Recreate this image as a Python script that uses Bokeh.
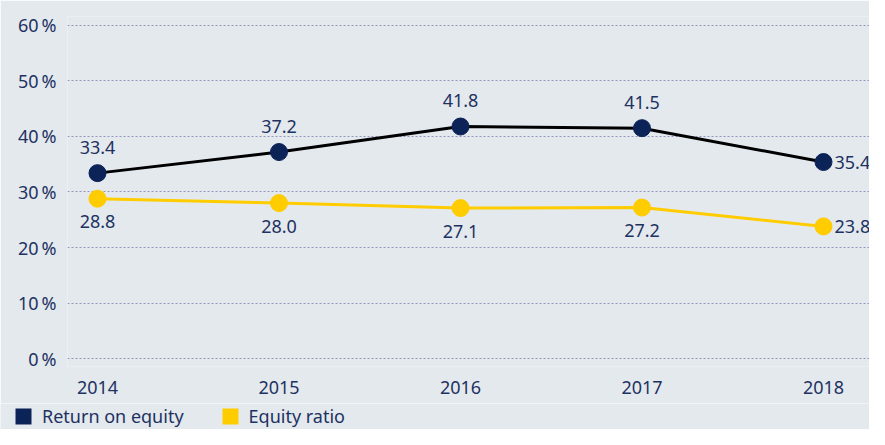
from bokeh.plotting import figure
from bokeh.layouts import column
from bokeh.models import (Range1d, FixedTicker, ColumnDataSource, LabelSet, Legend, LegendItem)
from bokeh.core.properties import value
from bokeh.embed import file_html
from bokeh.resources import INLINE

years = [2014, 2015, 2016, 2017, 2018]
return_on_equity = [33.4, 37.2, 41.8, 41.5, 35.4]
equity_ratio = [28.8, 28.0, 27.1, 27.2, 23.8]
y_ticks = [0, 10, 20, 30, 40, 50, 60]
y_tick_labels = ["0\u2009%", "10\u2009%", "20\u2009%", "30\u2009%", "40\u2009%", "50\u2009%", "60\u2009%"]
series_names = ["Return on equity", "Equity ratio"]

BG = "#E4E9EE"
NAVY = "#0C2357"
TEXT = "#1E3262"
YELLOW = "#FFCC00"
FONT = "Noto Sans"
FS = "18px"

p = figure(width=869, height=403, output_backend="svg", toolbar_location=None,
           x_range=Range1d(2013.8347, 2018.2534), y_range=Range1d(-1.44, 61.62),
           min_border_left=67, min_border_right=0, min_border_top=16, min_border_bottom=37,
           background_fill_color=BG, border_fill_color=BG)
p.frame_align = False
p.outline_line_color = None
p.xgrid.grid_line_color = None
p.ygrid.grid_line_color = "#9497BA"
p.ygrid.grid_line_dash = "2 2"
p.ygrid.grid_line_width = 1
p.ygrid.ticker = FixedTicker(ticks=y_ticks)

p.yaxis.ticker = FixedTicker(ticks=y_ticks)
p.yaxis.major_label_overrides = {t: l for t, l in zip(y_ticks, y_tick_labels)}
p.xaxis.ticker = FixedTicker(ticks=years)
p.xaxis.major_label_overrides = {y: str(y) for y in years}
for ax in (p.xaxis[0], p.yaxis[0]):
    ax.axis_line_color = None
    ax.major_tick_line_color = None
    ax.minor_tick_line_color = None
    ax.major_tick_out = 0
    ax.major_tick_in = 0
    ax.major_label_text_font = FONT
    ax.major_label_text_font_size = FS
    ax.major_label_text_color = TEXT
p.xaxis.major_label_standoff = 14
p.yaxis.major_label_standoff = 11

src = ColumnDataSource(dict(x=years, roe=return_on_equity, eq=equity_ratio))

p.line("x", "eq", source=src, line_color=YELLOW, line_width=3)
p.scatter("x", "eq", source=src, size=17, fill_color=YELLOW, line_color=YELLOW)
p.line("x", "roe", source=src, line_color="black", line_width=3)
p.scatter("x", "roe", source=src, size=17, fill_color=NAVY, line_color=NAVY)

lab_main = ColumnDataSource(dict(x=years[:-1], roe=return_on_equity[:-1], eq=equity_ratio[:-1],
                                 roe_t=[f"{v:.1f}" for v in return_on_equity[:-1]],
                                 eq_t=[f"{v:.1f}" for v in equity_ratio[:-1]]))
lab_last = ColumnDataSource(dict(x=years[-1:], roe=return_on_equity[-1:], eq=equity_ratio[-1:],
                                 roe_t=[f"{v:.1f}" for v in return_on_equity[-1:]],
                                 eq_t=[f"{v:.1f}" for v in equity_ratio[-1:]]))
common = dict(text_font=value(FONT), text_font_size=value(FS), text_color=TEXT,
              text_baseline="middle")
p.add_layout(LabelSet(x="x", y="roe", text="roe_t", source=lab_main, text_align="center",
                      y_offset=26, **common))
p.add_layout(LabelSet(x="x", y="eq", text="eq_t", source=lab_main, text_align="center",
                      y_offset=-23, **common))
p.add_layout(LabelSet(x="x", y="roe", text="roe_t", source=lab_last, text_align="left",
                      x_offset=11, **common))
p.add_layout(LabelSet(x="x", y="eq", text="eq_t", source=lab_last, text_align="left",
                      x_offset=11, **common))

# legend strip below the chart
lg = figure(width=869, height=26, output_backend="svg", toolbar_location=None,
            x_axis_type=None, y_axis_type=None,
            x_range=Range1d(0, 1), y_range=Range1d(0, 1),
            min_border=0, background_fill_color=BG, border_fill_color=BG)
lg.frame_align = False
lg.outline_line_color = None
lg.grid.visible = False
# zero-size quads outside the strip's range: only their legend swatches show
q1 = lg.quad(left="x", right="x", top="roe", bottom="roe", source=src,
             fill_color=NAVY, line_color=None)
q2 = lg.quad(left="x", right="x", top="eq", bottom="eq", source=src,
             fill_color=YELLOW, line_color=None)
legend = Legend(items=[LegendItem(label=series_names[0], renderers=[q1]),
                       LegendItem(label=series_names[1], renderers=[q2])],
                orientation="horizontal", location=(13, 1),
                glyph_width=20, glyph_height=20, label_standoff=9, spacing=36,
                padding=0, margin=0, background_fill_alpha=0, border_line_color=None,
                label_text_font=FONT, label_text_font_size=FS, label_text_color=TEXT,
                label_height=20)
lg.add_layout(legend, "center")

layout = column(p, lg, spacing=0)
open("out.html", "w").write(file_html(layout, INLINE))
